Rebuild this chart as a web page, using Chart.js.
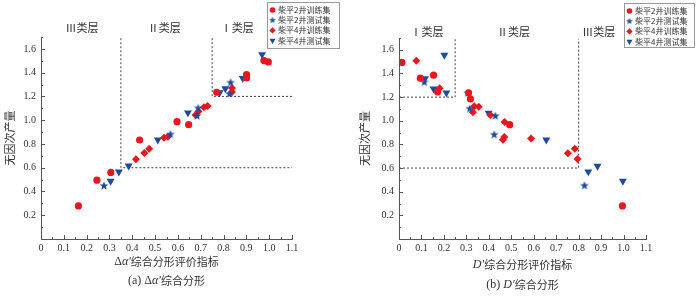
<!DOCTYPE html>
<html lang="zh">
<head>
<meta charset="UTF-8">
<title>无因次产量与综合分形评价指标</title>
<script src="https://cdn.jsdelivr.net/npm/chart.js"></script>
<style>
  body { margin: 0; background: #fff; width: 700px; height: 296px; overflow: hidden; }
  .wrap { display: flex; }
  canvas { display: block; }
</style>
</head>
<body>
<div class="wrap">
  <canvas id="chart-a" width="350" height="296"></canvas>
  <canvas id="chart-b" width="350" height="296"></canvas>
</div>
<script>
// (a) Δα′ 综合分形
const aTrain2 = [[0.164,0.278],[0.245,0.495],[0.306,0.56],[0.432,0.833],[0.596,0.987],[0.647,0.962],[0.77,1.235],[0.901,1.384],[0.901,1.356],[0.977,1.502],[0.996,1.49]];
const aTest2 = [[0.276,0.447],[0.567,0.88],[0.689,1.10],[0.684,1.035],[0.831,1.316],[0.826,1.22]];
const aTrain4 = [[0.416,0.672],[0.453,0.723],[0.474,0.76],[0.539,0.852],[0.556,0.861],[0.677,1.044],[0.69,1.072],[0.714,1.108],[0.73,1.12],[0.837,1.27],[0.837,1.238]];
const aTest4 = [[0.305,0.487],[0.341,0.565],[0.384,0.616],[0.512,0.835],[0.644,1.063],[0.783,1.232],[0.808,1.266],[0.884,1.353],[0.969,1.553]];
const aBound1 = [[0.35,1.69],[0.35,0.6],[1.1,0.6]];
const aBound2 = [[0.75,1.69],[0.75,1.2],[1.1,1.2]];

// (b) D′ 综合分形
const bTrain2 = [[0.013,1.493],[0.095,1.36],[0.154,1.386],[0.172,1.244],[0.31,1.236],[0.318,1.185],[0.493,0.967],[0.995,0.28]];
const bTest2 = [[0.113,1.325],[0.306,1.233],[0.315,1.102],[0.429,1.04],[0.424,0.882],[0.826,0.451]];
const bTrain4 = [[0.077,1.507],[0.181,1.276],[0.335,1.123],[0.355,1.118],[0.329,1.073],[0.407,1.048],[0.47,0.99],[0.463,0.839],[0.469,0.862],[0.588,0.851],[0.752,0.726],[0.783,0.763],[0.795,0.676]];
const bTest4 = [[0.116,1.358],[0.202,1.555],[0.154,1.27],[0.211,1.236],[0.399,1.066],[0.656,0.839],[0.843,0.569],[0.884,0.617],[0.997,0.49]];
const bBound1 = [[0,1.2],[0.25,1.2],[0.25,1.69]];
const bBound2 = [[0,0.6],[0.8,0.6],[0.8,1.69]];

const seriesNames = ["柴平2井训练集", "柴平2井测试集", "柴平4井训练集", "柴平4井测试集"];
const xTicks = [0, 0.1, 0.2, 0.3, 0.4, 0.5, 0.6, 0.7, 0.8, 0.9, 1.0, 1.1];
const yTicks = [0.2, 0.4, 0.6, 0.8, 1.0, 1.2, 1.4, 1.6];

const RED = "#e8161e";
const BLUE = "#1f4a9e";
const SERIF = '"Liberation Serif", "DejaVu Serif", serif';
const CJK = '"Noto Sans CJK SC", sans-serif';

// filled five-point star used as point style
function makeStar(r, color) {
  const c = document.createElement("canvas");
  const s = Math.ceil(r * 2 + 2);
  c.width = s; c.height = s;
  const g = c.getContext("2d");
  g.fillStyle = color;
  g.beginPath();
  for (let i = 0; i < 10; i++) {
    const rad = i % 2 ? r * 0.42 : r;
    const ang = -Math.PI / 2 + i * Math.PI / 5;
    g.lineTo(s / 2 + rad * Math.cos(ang), s / 2 + rad * Math.sin(ang));
  }
  g.closePath();
  g.fill();
  return c;
}
const star = makeStar(4.6, BLUE);
const starSmall = makeStar(3.6, BLUE);

const toPts = arr => arr.map(([x, y]) => ({ x, y }));

function pointSets(train2, test2, train4, test4) {
  const base = { borderWidth: 0, showLine: false, order: 1 };
  return [
    { ...base, label: seriesNames[0], data: toPts(train2), pointStyle: "circle", pointRadius: 3.6, backgroundColor: RED, legendStyle: "circle", legendRadius: 2.8 },
    { ...base, label: seriesNames[1], data: toPts(test2), pointStyle: star, pointRadius: 4.6, backgroundColor: BLUE, legendStyle: starSmall, legendRadius: 3 },
    { ...base, label: seriesNames[2], data: toPts(train4), pointStyle: "rectRot", pointRadius: 4, backgroundColor: RED, legendStyle: "rectRot", legendRadius: 3.1 },
    { ...base, label: seriesNames[3], data: toPts(test4), pointStyle: "triangle", pointRotation: 180, pointRadius: 4.6, backgroundColor: BLUE, legendStyle: "triangle", legendRadius: 3.5, legendRotation: 180 },
  ];
}

function boundSet(arr) {
  return {
    data: toPts(arr), showLine: true, pointRadius: 0, borderColor: "#444",
    borderWidth: 1, borderDash: [2, 2], fill: false, order: 10, isBound: true,
  };
}

function drawRuns(ctx, runs, cx, y) {
  let total = 0;
  runs.forEach(r => { ctx.font = r[1]; total += ctx.measureText(r[0]).width; });
  let x = cx - total / 2;
  ctx.textAlign = "left";
  runs.forEach(r => { ctx.font = r[1]; ctx.fillText(r[0], x, y); x += ctx.measureText(r[0]).width; });
}

const decor = {
  id: "decor",
  afterDraw(chart, args, o) {
    const { ctx, chartArea: a, scales: { x, y } } = chart;
    ctx.save();
    // inward tick marks, major and minor
    ctx.strokeStyle = "#555";
    ctx.lineWidth = 1;
    ctx.beginPath();
    for (let i = 1; i <= 22; i++) {
      const px = Math.round(x.getPixelForValue(i * 0.05)) + 0.5;
      ctx.moveTo(px, a.bottom);
      ctx.lineTo(px, a.bottom - (i % 2 ? 2 : 4));
    }
    for (let i = 1; i <= 17; i++) {
      const py = Math.round(y.getPixelForValue(i * 0.1)) + 0.5;
      ctx.moveTo(a.left, py);
      ctx.lineTo(a.left + (i % 2 ? 2 : 4), py);
    }
    ctx.stroke();

    ctx.fillStyle = "#333";
    ctx.textBaseline = "middle";
    // layer labels
    ctx.font = "11px " + CJK;
    o.layers.forEach(l => {
      ctx.textAlign = "center";
      ctx.fillText(l[0], x.getPixelForValue(l[1]), o.layerY);
    });
    // x axis title and caption
    drawRuns(ctx, o.xTitle, (a.left + a.right) / 2, o.xTitleY);
    drawRuns(ctx, o.caption, (a.left + a.right) / 2, o.captionY);

    // legend box
    const L = o.legend;
    ctx.strokeStyle = "#999";
    ctx.strokeRect(L.x + 0.5, L.y + 0.5, L.w, L.h);
    chart.data.datasets.filter(d => !d.isBound).forEach((d, i) => {
      const my = L.y + 8 + i * 10.2;
      ctx.fillStyle = d.backgroundColor;
      Chart.helpers.drawPoint(ctx, { pointStyle: d.legendStyle, radius: d.legendRadius, rotation: d.legendRotation || 0, borderWidth: 0 }, L.x + 5.5, my);
      ctx.fillStyle = "#333";
      ctx.font = "8px " + CJK;
      ctx.textAlign = "left";
      ctx.fillText(d.label, L.x + 11, my);
    });
    ctx.restore();
  },
};

function makeChart(id, sets, pad, yWidth, yTitlePad, deco) {
  return new Chart(document.getElementById(id), {
    type: "scatter",
    data: { datasets: sets },
    plugins: [decor],
    options: {
      responsive: false,
      animation: false,
      devicePixelRatio: 1,
      layout: { padding: pad },
      plugins: { legend: { display: false }, tooltip: { enabled: false }, decor: deco },
      scales: {
        x: {
          type: "linear", min: 0, max: 1.1,
          afterBuildTicks: s => { s.ticks = xTicks.map(v => ({ value: v })); },
          afterFit: s => { s.height = 20; },
          grid: { display: false, drawTicks: false },
          border: { display: true, color: "#555", width: 1 },
          ticks: {
            padding: 3, color: "#333", font: { family: SERIF, size: 10 },
            maxRotation: 0, autoSkip: false,
            callback: v => (v === 0 ? "0" : v.toFixed(1)),
          },
        },
        y: {
          type: "linear", min: 0, max: 1.7,
          afterBuildTicks: s => { s.ticks = yTicks.map(v => ({ value: v })); },
          afterFit: s => { s.width = yWidth; },
          grid: { display: false, drawTicks: false },
          border: { display: true, color: "#555", width: 1 },
          ticks: {
            padding: 5, color: "#333", font: { family: SERIF, size: 10 },
            autoSkip: false, callback: v => v.toFixed(1),
          },
          title: { display: true, text: "无因次产量", color: "#333", font: { family: CJK, size: 11 }, padding: yTitlePad },
        },
      },
    },
  });
}

const italic = "italic 12px " + SERIF;
const serif = "12px " + SERIF;
const cjk12 = "11px " + CJK;

makeChart("chart-a",
  [...pointSets(aTrain2, aTest2, aTrain4, aTest4), boundSet(aBound1), boundSet(aBound2)],
  { left: 0, right: 58, top: 37, bottom: 37 }, 41, { top: 3, bottom: 0 },
  {
    layers: [["Ⅲ类层", 0.18], ["Ⅱ类层", 0.54], ["Ⅰ类层", 0.86]], layerY: 28,
    xTitle: [["Δ", serif], ["α′", italic], ["综合分形评价指标", cjk12]], xTitleY: 262,
    caption: [["(a) Δ", serif], ["α′", italic], ["综合分形", cjk12]], captionY: 281,
    legend: { x: 267, y: 2, w: 72, h: 46 },
  });

makeChart("chart-b",
  [...pointSets(bTrain2, bTest2, bTrain4, bTest4), boundSet(bBound1), boundSet(bBound2)],
  { left: 0, right: 54, top: 38, bottom: 37 }, 49, { top: 8, bottom: 0 },
  {
    layers: [["Ⅰ类层", 0.125], ["Ⅱ类层", 0.51], ["Ⅲ类层", 0.89]], layerY: 32,
    xTitle: [["D′", italic], ["综合分形评价指标", cjk12]], xTitleY: 265,
    caption: [["(b) ", serif], ["D′", italic], ["综合分形", cjk12]], captionY: 285,
    legend: { x: 274, y: 3, w: 70, h: 44 },
  });
</script>
</body>
</html>
